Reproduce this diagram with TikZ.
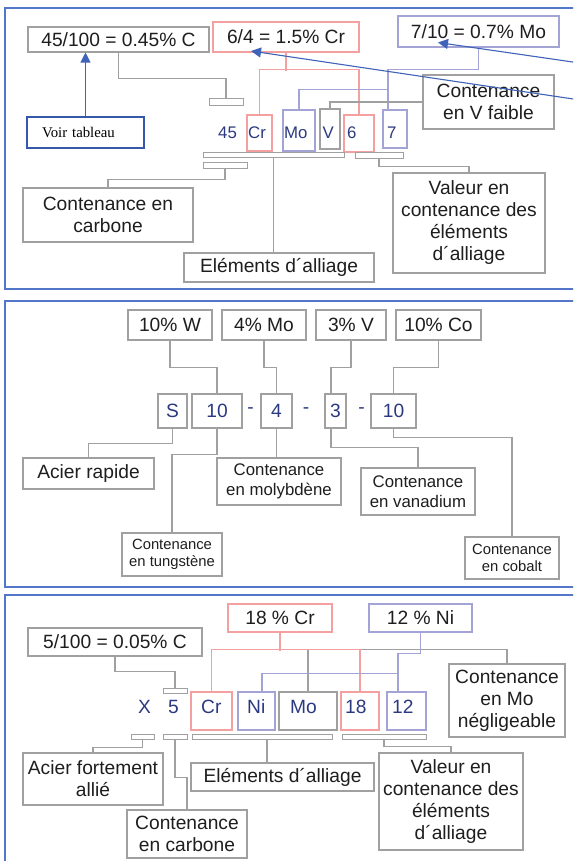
\documentclass[tikz,border=0pt]{standalone}
\usepackage{fontspec}
\setmainfont{Liberation Sans}
\newfontfamily\serifvoir{Liberation Serif}
\usetikzlibrary{arrows.meta}
\definecolor{cgray}{HTML}{A0A0A0}
\definecolor{cred}{HTML}{F4A0A0}
\definecolor{clav}{HTML}{A3A3D6}
\definecolor{cframe}{HTML}{5276C8}
\definecolor{cnavy}{HTML}{2B3A80}
\definecolor{carrow}{HTML}{3F63B8}
\definecolor{cvoir}{HTML}{3558A8}
\definecolor{ctext}{HTML}{1E1E1E}
\newcommand\fsmain{\fontsize{19.2}{22}\selectfont}
\newcommand\fsmid{\fontsize{16.8}{19.5}\selectfont}
\newcommand\fssmall{\fontsize{14.8}{17.5}\selectfont}
\newcommand\fsvoir{\serifvoir\fontsize{14.8}{17}\selectfont}
\begin{document}
\begin{tikzpicture}[x=1pt,y=-1pt,
  wh/.style 2 args={minimum width=#1pt,minimum height=#2pt},
  gbox/.style={draw=cgray,line width=1.1pt,inner sep=0pt,align=center,text=ctext,font=\fsmain},
  rbox/.style={gbox,draw=cred},
  lbox/.style={gbox,draw=clav},
  nbox/.style={gbox,text=cnavy},
  vbox/.style={gbox,draw=cvoir,line width=1.4pt,font=\fsvoir,text=black},
  gbar/.style={draw=cgray,line width=1pt,inner sep=0pt},
  eltxt/.style={inner sep=0pt,text=cnavy,font=\fsmain},
  smtxt/.style={inner sep=0pt,text=cnavy,font=\fsmid},
  gl/.style={draw=cgray,line width=1.1pt},
  rl/.style={draw=cred,line width=1.1pt},
  ll/.style={draw=clav,line width=1.1pt},
  pframe/.style={draw=cframe,line width=1.4pt},
  barrow/.style={draw=carrow,line width=1.1pt,-{Triangle[width=10pt,length=10pt]}},
]
\useasboundingbox (0,0) rectangle (573,861);
\clip (0,0) rectangle (573,861);
\fill[white] (0,0) rectangle (573,861);

% panel frames
\draw[pframe] (5,8) rectangle (590,289);
\draw[pframe] (5,301) rectangle (590,587);
\draw[pframe] (5,595) rectangle (590,880);

%% ---------- Panel 1 ----------
\node[gbox,wh={181}{25}] (c45) at (118.5,39.5) {45/100 = 0.45\% C};
\node[rbox,wh={146}{30}] (cr) at (286,37) {6/4 = 1.5\% Cr};
\node[lbox,wh={161}{31}] (mo) at (478.5,31.5) {7/10 = 0.7\% Mo};
\node[vbox,wh={117}{31},text width=87pt,align=left] (voir) at (85.5,132.5) {Voir tableau};
\node[gbox,wh={131}{54}] (vf) at (488.5,102) {Contenance\\en V faible};

\node[rbox,wh={25}{36}] (eCr) at (259.5,133) {};
\node[lbox,wh={32}{41}] (eMo) at (299,130.5) {};
\node[gbox,wh={20}{40}] (eV) at (330,129) {};
\node[rbox,wh={30}{37}] (e6) at (359,133.5) {};
\node[lbox,wh={24}{38}] (e7) at (395,129) {};
\node[smtxt,anchor=base west] (t45) at (218,139) {45};
\node[smtxt,anchor=base west] (tCr) at (248,139) {Cr};
\node[smtxt,anchor=base west] (tMo) at (284,139) {Mo};
\node[smtxt,anchor=base west] (tV) at (322.5,139) {V};
\node[smtxt,anchor=base west] (t6) at (347,139) {6};
\node[smtxt,anchor=base west] (t7) at (387,139) {7};

\node[gbar,wh={34}{7}] (b0) at (226,102.5) {};
\node[gbar,wh={141}{5}] (b1) at (273.5,155.5) {};
\node[gbar,wh={48}{6}] (b2) at (379,156) {};
\node[gbar,wh={44}{6}] (b3) at (225,166) {};

\node[gbox,wh={170}{54}] (carb1) at (108,215) {Contenance en\\carbone};
\node[gbox,wh={190}{29}] (elem1) at (279,267.5) {Eléments d´alliage};
\node[gbox,wh={152}{100}] (val1) at (469,223) {Valeur en\\contenance des\\éléments\\d´alliage};

\draw[gl] (c45.south) -- ++(0,26) -| (b0.north);
\draw[rl] (cr.south) -- ++(0,18);
\draw[rl] (eCr.north) -- ++(0,-45) -| (e6.north);
\draw[ll] (mo.south) -- ++(0,22) -| ([xshift=-7pt]e7.north);
\draw[ll] (eMo.north) -- ++(0,-20) -| ([xshift=-7pt]e7.north);
\draw[gl] (vf.west) -| (eV.north);
\draw[gl] (b3.south) -- ++(0,10) -| (carb1.north);
\draw[gl] (b1.south) -- (b1.south |- elem1.north);
\draw[gl] (b2.south) -- ++(0,7) -| (val1.north);

\draw[barrow] (voir.north) -- (voir.north |- c45.south);
\coordinate (a1s) at (590,64.5);
\coordinate (a1e) at (438,42.5);
\coordinate (a2s) at (590,101.5);
\coordinate (a2e) at (251,51);
\draw[barrow] (a1s) -- (a1e);
\draw[barrow] (a2s) -- (a2e);

%% ---------- Panel 2 ----------
\node[gbox,wh={84}{30}] (pW) at (170,325) {10\% W};
\node[gbox,wh={84}{30}] (pMo) at (264,325) {4\% Mo};
\node[gbox,wh={70}{30}] (pV) at (351,325) {3\% V};
\node[gbox,wh={85}{30}] (pCo) at (438.5,325) {10\% Co};

\node[nbox,wh={29}{34}] (sS) at (172.5,411) {S};
\node[nbox,wh={50}{34}] (s10) at (217,411) {10};
\node[nbox,wh={31}{34}] (s4) at (276.5,411) {4};
\node[nbox,wh={21}{34}] (s3) at (335.5,411) {3};
\node[nbox,wh={45}{34}] (s10c) at (393.5,411) {10};
\node[eltxt] (d1) at (250.5,411) {-};
\node[eltxt] (d2) at (306,411) {-};
\node[eltxt] (d3) at (361.5,411) {-};

\node[gbox,wh={131}{31}] (rap) at (88.5,473.5) {Acier rapide};
\node[gbox,wh={100}{43},font=\fssmall] (tung) at (172,554.5) {Contenance\\en tungstène};
\node[gbox,wh={124}{47},font=\fsmid] (moly) at (279,481.5) {Contenance\\en molybdène};
\node[gbox,wh={114}{47},font=\fsmid] (vana) at (418,491.5) {Contenance\\en vanadium};
\node[gbox,wh={94}{42},font=\fssmall] (coba) at (512,558) {Contenance\\en cobalt};

\draw[gl] (pW.south) -- ++(0,27) -| (s10.north);
\draw[gl] (pMo.south) -- ++(0,27) -| (s4.north);
\draw[gl] (pV.south) -- ++(0,27) -| ([xshift=-4.5pt]s3.north);
\draw[gl] (pCo.south) -- ++(0,27) -| (s10c.north);
\draw[gl] (sS.south) -- ++(0,15) -| (rap.north);
\draw[gl] (s10.south) -- ++(0,26) -| (tung.north);
\draw[gl] (s4.south) -- (s4.south |- moly.north);
\draw[gl] ([xshift=-4.5pt]s3.south) -- ++(0,19) -| (vana.north);
\draw[gl] (s10c.south) -- ++(0,9) -| (coba.north);

%% ---------- Panel 3 ----------
\node[rbox,wh={104}{28}] (q18) at (280,618) {18 \% Cr};
\node[lbox,wh={103}{28}] (q12) at (420.5,618) {12 \% Ni};
\node[gbox,wh={174}{28}] (c5) at (115,642) {5/100 = 0.05\% C};
\node[gbar,wh={24}{5}] (bar5) at (175,690.5) {};

\node[rbox,wh={41}{38}] (fCr) at (211.5,711) {};
\node[lbox,wh={37}{38}] (fNi) at (256.5,711) {};
\node[gbox,wh={58}{38}] (fMo) at (308,711) {};
\node[rbox,wh={38}{38}] (f18) at (360,711) {};
\node[lbox,wh={39}{38}] (f12) at (406.5,711) {};
\node[eltxt,anchor=base west] (tX) at (138,713) {X};
\node[eltxt,anchor=base west] (t5) at (168,713) {5};
\node[eltxt,anchor=base west] (uCr) at (201,713) {Cr};
\node[eltxt,anchor=base west] (uNi) at (247,713) {Ni};
\node[eltxt,anchor=base west] (uMo) at (290,713) {Mo};
\node[eltxt,anchor=base west] (u18) at (345,713) {18};
\node[eltxt,anchor=base west] (u12) at (392,713) {12};
\node[gbox,wh={116}{73}] (neg) at (507,700.5) {Contenance\\en Mo\\négligeable};

\draw[gl] (c5.south) -- ++(0,15) -| (bar5.north);
\draw[gl] (fMo.north) -- ++(0,-42) -| (neg.north);
\draw[rl] (q18.south) -- ++(0,18);
\draw[rl] (fCr.north) -- ++(0,-42) -| (f18.north);
\draw[ll] (q12.south) -- ++(0,21) -| ([xshift=-8.5pt]f12.north);
\draw[ll] ([xshift=5.5pt]fNi.north) -- ++(0,-18) -| ([xshift=-8.5pt]f12.north);

\node[gbar,wh={23}{5}] (ba) at (142.5,736.5) {};
\node[gbar,wh={24}{5}] (bb) at (175,736.5) {};
\node[gbar,wh={140}{5}] (bc) at (262,736.5) {};
\node[gbar,wh={84}{5}] (bd) at (384,736.5) {};

\node[gbox,wh={140}{52}] (fort) at (93,779) {Acier fortement\\allié};
\node[gbox,wh={120}{48}] (carb3) at (187,834) {Contenance\\en carbone};
\node[gbox,wh={183}{28}] (elem3) at (282.5,777) {Eléments d´alliage};
\node[gbox,wh={144}{97}] (val3) at (451,801.5) {Valeur en\\contenance des\\éléments\\d´alliage};

\draw[gl] (ba.south) -- ++(0,8) -| (fort.north);
\draw[gl] (bb.south) -- ++(0,38) -| (carb3.north);
\draw[gl] ([xshift=5pt]bc.south) -- ([xshift=5pt]bc.south |- elem3.north);
\draw[gl] (bd.south) -- ++(0,7) -| (val3.north);
\end{tikzpicture}
\end{document}
